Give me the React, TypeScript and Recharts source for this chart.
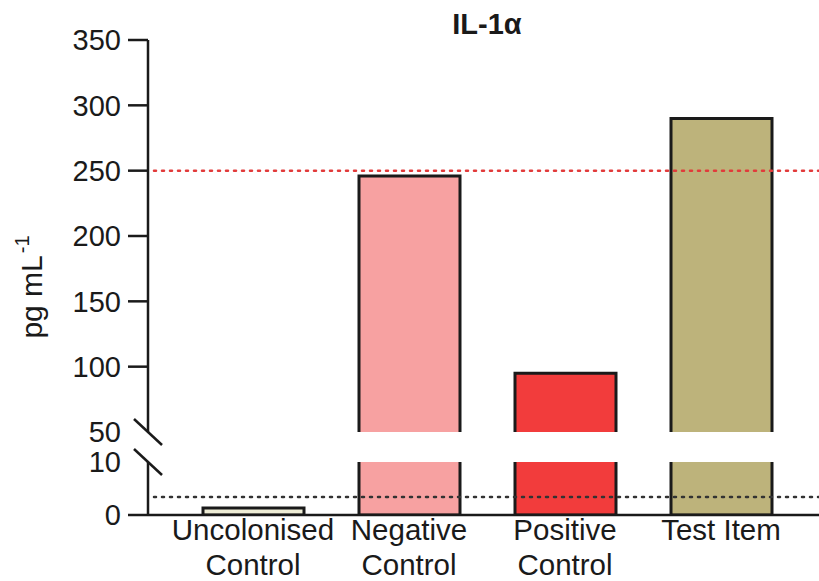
import { BarChart, Bar, XAxis, YAxis, ReferenceLine, Cell, Label } from "recharts";

const categories = ["Uncolonised Control", "Negative Control", "Positive Control", "Test Item"];
const categoryLines = [["Uncolonised", "Control"], ["Negative", "Control"], ["Positive", "Control"], ["Test Item"]];
const values = [1.3, 246, 95, 290];
const barColors = ["#eeedd6", "#f7a1a1", "#f23c3c", "#bdb37b"];
const upperTicks = [50, 100, 150, 200, 250, 300, 350];
const lowerTicks = [0, 10];
const breakTicks = [50, 10];
const upperLimit = 250;
const lowerLimit = 3.4;

const FONT = "'Liberation Sans', Arial, sans-serif";
const INK = "#1a1a1a";

const upperData = categories.map((name, i) => ({ name, value: values[i] >= 50 ? values[i] : null }));
const lowerData = categories.map((name, i) => ({ name, value: values[i] }));

function YTick(props: any) {
  const { x, y, payload } = props;
  const v = payload.value;
  const axisX = x + 27;
  return (
    <g>
      {breakTicks.includes(v) ? (
        <line x1={axisX - 14} y1={y - 13} x2={axisX + 14} y2={y + 13} stroke={INK} strokeWidth={2.5} />
      ) : (
        <line x1={x + 7} y1={y} x2={axisX} y2={y} stroke={INK} strokeWidth={2.5} />
      )}
      <text x={x} y={y} dy="0.36em" textAnchor="end" fontSize={29} fontFamily={FONT} fill={INK}>
        {v}
      </text>
    </g>
  );
}

function XTick(props: any) {
  const { x, y, index } = props;
  const lines = categoryLines[index] || [];
  return (
    <text x={x} y={y} textAnchor="middle" fontSize={29.5} fontFamily={FONT} fill={INK}>
      {lines.map((l, i) => (
        <tspan key={i} x={x} dy={i === 0 ? 25 : 35}>
          {l}
        </tspan>
      ))}
    </text>
  );
}

function OpenBottomBar(props: any) {
  const { x, y, width, height, payload } = props;
  if (!height || height <= 0) return null;
  const fill = barColors[categories.indexOf(payload?.name)];
  return (
    <g>
      <rect x={x} y={y} width={width} height={height} fill={fill} />
      <path
        d={`M${x},${y + height}V${y}H${x + width}V${y + height}`}
        fill="none"
        stroke={INK}
        strokeWidth={3}
      />
    </g>
  );
}

function YLabel() {
  return (
    <text x={42} y={287} transform="rotate(-90 42 287)" textAnchor="middle" fontSize={30} fontFamily={FONT} fill={INK}>
      pg mL
      <tspan dx={2} dy={-13} fontSize={20}>-1</tspan>
    </text>
  );
}

export default function App() {
  return (
    <div style={{ position: "fixed", left: 0, top: 0, width: 819, height: 581, background: "#fff" }}>
      <div
        style={{
          position: "absolute",
          left: 387,
          top: 8,
          width: 200,
          textAlign: "center",
          fontFamily: FONT,
          fontWeight: 600,
          fontSize: 29,
          lineHeight: "32px",
          color: INK,
        }}
      >
        IL-1α
      </div>
      <div style={{ position: "absolute", left: 0, top: 0 }}>
        <BarChart width={819} height={460} data={upperData} margin={{ top: 40, right: 0, bottom: 28, left: 0 }}>
          <XAxis dataKey="name" hide padding={{ left: 27, right: 20 }} />
          <YAxis
            type="number"
            domain={[50, 350]}
            ticks={upperTicks}
            allowDataOverflow
            width={148}
            tickSize={20}
            tickMargin={7}
            tickLine={false}
            tick={<YTick />}
            axisLine={{ stroke: INK, strokeWidth: 2.5 }}
          >
            <Label content={<YLabel />} />
          </YAxis>
          <ReferenceLine
            y={upperLimit}
            stroke="#e23a3a"
            strokeWidth={2.5}
            strokeDasharray="2 6"
            strokeLinecap="round"
            strokeDashoffset={-6}
          />
          <Bar dataKey="value" barSize={101} isAnimationActive={false} shape={<OpenBottomBar />} />
        </BarChart>
      </div>
      <div style={{ position: "absolute", left: 0, top: 445 }}>
        <BarChart width={819} height={136} data={lowerData} margin={{ top: 17, right: 0, bottom: 0, left: 0 }}>
          <XAxis
            dataKey="name"
            height={66}
            padding={{ left: 27, right: 20 }}
            tickLine={false}
            tickSize={0}
            tickMargin={0}
            tick={<XTick />}
            interval={0}
            axisLine={{ stroke: INK, strokeWidth: 2.5 }}
          />
          <YAxis
            type="number"
            domain={[0, 10]}
            ticks={lowerTicks}
            allowDataOverflow
            width={148}
            tickSize={20}
            tickMargin={7}
            tickLine={false}
            tick={<YTick />}
            axisLine={{ stroke: INK, strokeWidth: 2.5 }}
          />
          <ReferenceLine
            y={lowerLimit}
            stroke="#333"
            strokeWidth={2.5}
            strokeDasharray="2 6"
            strokeLinecap="round"
            strokeDashoffset={-6}
          />
          <Bar dataKey="value" barSize={101} stroke={INK} strokeWidth={3} isAnimationActive={false}>
            {lowerData.map((d, i) => (
              <Cell key={d.name} fill={barColors[i]} />
            ))}
          </Bar>
        </BarChart>
      </div>
    </div>
  );
}
